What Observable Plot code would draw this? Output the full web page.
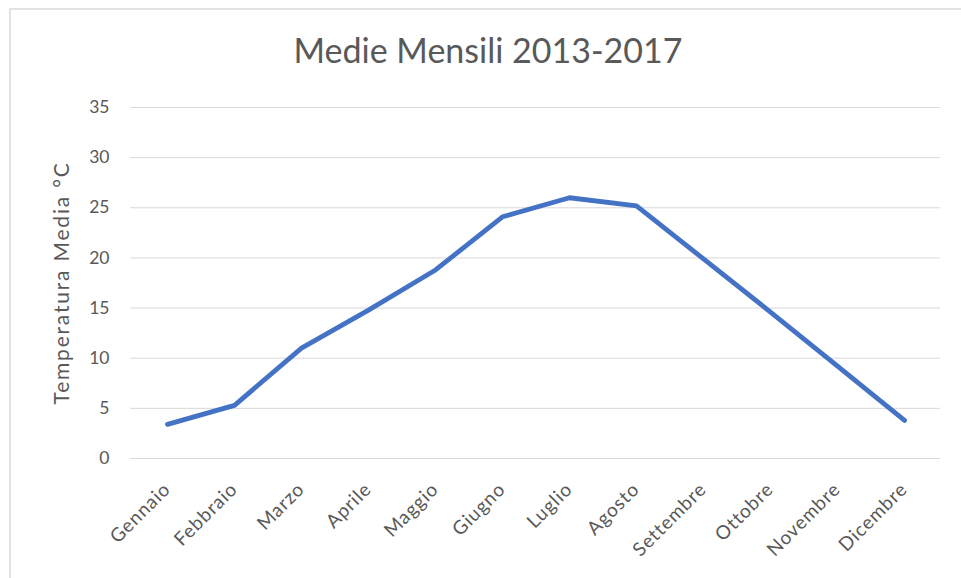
<!DOCTYPE html>
<html>
<head>
<meta charset="utf-8">
<script src="https://cdn.jsdelivr.net/npm/d3@7"></script>
<script src="https://cdn.jsdelivr.net/npm/@observablehq/plot@0.6"></script>
<style>
  html, body { margin: 0; padding: 0; background: #fff; }
  #wrap { position: relative; width: 961px; height: 578px; overflow: hidden; font-family: Lato, "Open Sans", sans-serif; }
  #frame { position: absolute; left: 9px; top: 8px; width: 1000px; height: 700px; border-left: 2px solid #e2e2e2; border-top: 2px solid #e2e2e2; }
  #title { position: absolute; left: 0; top: 30px; width: 976px; text-align: center; font-size: 34px; color: #595959; line-height: 40px; }
  #chart { position: absolute; left: 0; top: 0; }
  .ylab text { letter-spacing: 1.8px; }
  .xlab text { letter-spacing: 0.9px; }
</style>
</head>
<body>
<div id="wrap">
  <div id="frame"></div>
  <div id="chart"></div>
  <div id="title">Medie Mensili 2013-2017</div>
</div>
<script>
const months = ["Gennaio","Febbraio","Marzo","Aprile","Maggio","Giugno","Luglio","Agosto","Settembre","Ottobre","Novembre","Dicembre"];
const temps = [3.4, 5.3, 11.0, 14.8, 18.8, 24.1, 26.0, 25.2, 19.9, 14.6, 9.2, 3.8];
const yTicks = [0, 5, 10, 15, 20, 25, 30, 35];
const yLabel = "Temperatura Media °C";

const data = months.map((m, i) => ({month: m, temp: temps[i]}));

const chart = Plot.plot({
  width: 961,
  height: 578,
  marginLeft: 130,
  marginRight: 21,
  marginTop: 107,
  marginBottom: 120,
  style: {fontFamily: "Lato, 'Open Sans', sans-serif", color: "#595959", background: "transparent"},
  x: {type: "point", domain: months, padding: 0.5, axis: null},
  y: {domain: [0, 35], ticks: yTicks, label: null},
  marks: [
    Plot.ruleY(yTicks, {stroke: "#d9d9d9", strokeWidth: 1}),
    Plot.axisY({ticks: yTicks, tickSize: 0, tickPadding: 21, fontSize: 17.5, fill: "#595959", label: null}),
    Plot.text([yLabel], {frameAnchor: "left", dx: -68, dy: 0, rotate: -90, textAnchor: "middle", fontSize: 21, fill: "#595959", text: d => d, className: "ylab"}),
    Plot.line(data, {x: "month", y: "temp", stroke: "#4472C4", strokeWidth: 4.8, strokeLinejoin: "round", strokeLinecap: "round"}),
    Plot.text(data, {x: "month", frameAnchor: "bottom", text: "month", rotate: -45, textAnchor: "end", lineAnchor: "bottom", dx: 4, dy: 32, fontSize: 19, fill: "#595959", className: "xlab"})
  ]
});
document.getElementById("chart").appendChild(chart);
</script>
</body>
</html>
